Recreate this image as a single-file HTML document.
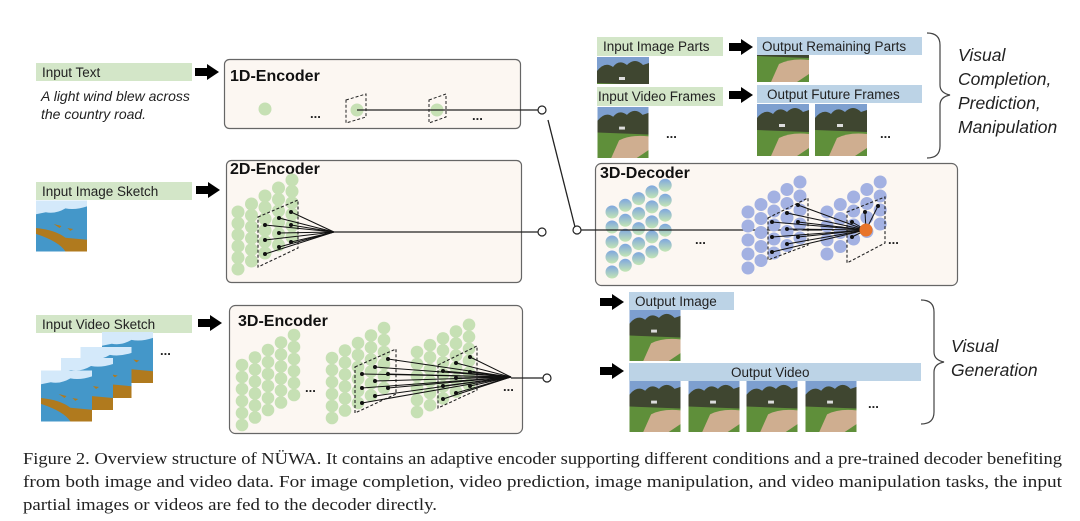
<!DOCTYPE html>
<html><head><meta charset="utf-8"><style>
html,body{margin:0;padding:0;background:#fff;}
svg{display:block;}
.lbl{font-family:"Liberation Sans",sans-serif;font-size:13.5px;fill:#222;}
.ttl{font-family:"Liberation Sans",sans-serif;font-size:16px;font-weight:bold;fill:#111;}
.it{font-family:"Liberation Sans",sans-serif;font-size:14px;font-style:italic;fill:#222;}
.it2{font-family:"Liberation Sans",sans-serif;font-size:17.5px;font-style:italic;fill:#222;}
.cap{font-family:"Liberation Serif",serif;font-size:16.5px;fill:#222;}
.dots{font-family:"Liberation Sans",sans-serif;font-size:13px;font-weight:bold;fill:#222;}
</style></head><body>
<svg id="s" width="1080" height="521" viewBox="0 0 1080 521" xmlns="http://www.w3.org/2000/svg">
<defs>
<linearGradient id="bg" x1="0" y1="0" x2="0" y2="1"><stop offset="0" stop-color="#7ea6df"/><stop offset="1" stop-color="#c4e6b4"/></linearGradient>
<symbol id="photo" viewBox="0 0 52 52">
<rect width="52" height="52" fill="#4d5a3e"/>
<rect width="52" height="14" fill="#7d9fcf"/>
<path d="M0 14 Q8 4 16 10 Q22 2 30 8 Q38 0 46 8 L52 6 L52 30 L0 30Z" fill="#3f4630"/>
<rect x="22" y="20" width="6" height="3" fill="#ddd"/>
<path d="M0 26 L52 28 L52 52 L0 52Z" fill="#5f8f3a"/>
<path d="M14 52 L22 34 Q34 28 52 30 L52 44 L40 52Z" fill="#cfae90"/>
</symbol>
<symbol id="sketch" viewBox="0 0 52 52">
<rect width="52" height="52" fill="#4497c9"/>
<path d="M0 0 H52 V6 Q40 10 30 8 Q20 14 10 12 L0 14Z" fill="#d4e9fa"/>
<path d="M0 28 Q20 30 30 38 L52 40 L52 52 L30 52 Q24 42 0 34Z" fill="#b07a1e"/>
<path d="M18 24 l8 2 l-2 2z M32 28 l6 1 l-3 2z" fill="#b07a1e"/>
</symbol>
<symbol id="arrow" viewBox="0 0 24 16"><path d="M0 4 H12 V0 L24 8 L12 16 V12 H0Z" fill="#000"/></symbol>
</defs>

<!-- Encoder boxes -->
<rect x="224.5" y="59.5" width="296" height="69" rx="5" fill="#fcf7f2" stroke="#666" stroke-width="1.2"/>
<rect x="226.5" y="160.5" width="295" height="122" rx="5" fill="#fcf7f2" stroke="#666" stroke-width="1.2"/>
<rect x="229.5" y="305.5" width="293" height="128" rx="6" fill="#fcf7f2" stroke="#666" stroke-width="1.2"/>
<rect x="595.5" y="163.5" width="362" height="122" rx="6" fill="#fcf7f2" stroke="#666" stroke-width="1.2"/>

<text class="ttl" x="230" y="81">1D-Encoder</text>
<text class="ttl" x="230" y="174">2D-Encoder</text>
<text class="ttl" x="238" y="326">3D-Encoder</text>
<text class="ttl" x="600" y="178">3D-Decoder</text>

<!-- left inputs -->
<rect x="36" y="63" width="156" height="18" fill="#d3e6c8"/>
<text class="lbl" x="42" y="77">Input Text</text>
<use href="#arrow" x="195" y="64" width="24" height="16"/>
<text class="it" x="41" y="101">A light wind blew across</text>
<text class="it" x="41" y="119">the country road.</text>

<rect x="36" y="182" width="156" height="18" fill="#d3e6c8"/>
<text class="lbl" x="42" y="196">Input Image Sketch</text>
<use href="#arrow" x="196" y="182" width="24" height="16"/>
<use href="#sketch" x="36" y="200" width="51" height="52"/>

<rect x="36" y="315" width="156" height="18" fill="#d3e6c8"/>
<text class="lbl" x="42" y="329">Input Video Sketch</text>
<use href="#arrow" x="198" y="315" width="24" height="16"/>
<use href="#sketch" x="102" y="332" width="51" height="51"/>
<use href="#sketch" x="80" y="347" width="52" height="51"/>
<use href="#sketch" x="61" y="358" width="52" height="52"/>
<use href="#sketch" x="41" y="370" width="51" height="52"/>
<text class="dots" x="160" y="355">...</text>

<!-- 1D encoder content -->
<circle cx="265" cy="109" r="6.5" fill="#c6e0b4"/>
<text class="dots" x="310" y="118">...</text>
<path d="M346 100 L366 94 L366 117 L346 123Z" fill="none" stroke="#222" stroke-dasharray="3,2"/>
<circle cx="357" cy="110" r="6.5" fill="#c6e0b4"/>
<path d="M429 100 L446 94 L446 117 L429 123Z" fill="none" stroke="#222" stroke-dasharray="3,2"/>
<circle cx="437" cy="110" r="6.5" fill="#c6e0b4"/>
<text class="dots" x="472" y="120">...</text>
<line x1="357" y1="110" x2="538" y2="110" stroke="#222" stroke-width="1.3"/>
<circle cx="542" cy="110" r="4" fill="#fff" stroke="#222" stroke-width="1.2"/>
<line x1="548" y1="120" x2="575" y2="227" stroke="#222" stroke-width="1.3"/>

<g id="gen"></g>

<line x1="334" y1="232" x2="538" y2="232" stroke="#222" stroke-width="1.3"/>
<circle cx="542" cy="232" r="4" fill="#fff" stroke="#222" stroke-width="1.2"/>
<line x1="511" y1="378" x2="543" y2="378" stroke="#222" stroke-width="1.3"/>
<circle cx="547" cy="378" r="4" fill="#fff" stroke="#222" stroke-width="1.2"/>
<text class="dots" x="305" y="392">...</text>
<text class="dots" x="503" y="391">...</text>
<circle cx="577" cy="230" r="4" fill="#fff" stroke="#222" stroke-width="1.2"/>
<text class="dots" x="695" y="244">...</text>
<text class="dots" x="888" y="244">...</text>

<!-- top right -->
<rect x="597" y="37" width="126" height="19" fill="#d3e6c8"/>
<text class="lbl" x="603" y="51">Input Image Parts</text>
<use href="#arrow" x="729" y="39" width="24" height="16"/>
<rect x="757" y="37" width="165" height="18" fill="#bcd3e6"/>
<text class="lbl" x="762" y="51">Output Remaining Parts</text>
<svg x="597" y="57" width="52" height="27" viewBox="0 0 52 27"><use href="#photo" width="52" height="52"/></svg>
<svg x="757" y="55" width="52" height="27" viewBox="0 25 52 27"><use href="#photo" width="52" height="52"/></svg>

<rect x="597" y="87" width="126" height="19" fill="#d3e6c8"/>
<text class="lbl" x="598" y="101">Input Video Frames</text>
<use href="#arrow" x="729" y="87" width="24" height="16"/>
<rect x="757" y="85" width="165" height="18" fill="#bcd3e6"/>
<text class="lbl" x="767" y="99">Output Future Frames</text>
<use href="#photo" x="597" y="107" width="52" height="51"/>
<text class="dots" x="666" y="138">...</text>
<use href="#photo" x="757" y="104" width="52" height="52"/>
<use href="#photo" x="815" y="104" width="52" height="52"/>
<text class="dots" x="880" y="138">...</text>

<path d="M927 33 Q940 33 940 45 V85 Q940 93 950 95 Q940 97 940 105 V146 Q940 158 927 158" fill="none" stroke="#444" stroke-width="1.2"/>
<text class="it2" x="958" y="61">Visual</text>
<text class="it2" x="958" y="85">Completion,</text>
<text class="it2" x="958" y="109">Prediction,</text>
<text class="it2" x="958" y="133">Manipulation</text>

<!-- bottom right -->
<use href="#arrow" x="600" y="294" width="24" height="16"/>
<rect x="629" y="292" width="105" height="18" fill="#bcd3e6"/>
<text class="lbl" x="635" y="306">Output Image</text>
<use href="#photo" x="629" y="310" width="52" height="51"/>
<use href="#arrow" x="600" y="363" width="24" height="16"/>
<rect x="629" y="363" width="292" height="18" fill="#bcd3e6"/>
<text class="lbl" x="731" y="377">Output Video</text>
<use href="#photo" x="629" y="381" width="52" height="51"/>
<use href="#photo" x="688" y="381" width="52" height="51"/>
<use href="#photo" x="746" y="381" width="52" height="51"/>
<use href="#photo" x="805" y="381" width="52" height="51"/>
<text class="dots" x="868" y="408">...</text>
<path d="M921 300 Q934 300 934 312 V352 Q934 360 944 362 Q934 364 934 372 V412 Q934 424 921 424" fill="none" stroke="#444" stroke-width="1.2"/>
<text class="it2" x="951" y="352">Visual</text>
<text class="it2" x="951" y="376">Generation</text>

<!-- caption -->
<text class="cap" x="23" y="464" textLength="1039" lengthAdjust="spacingAndGlyphs">Figure 2. Overview structure of NÜWA. It contains an adaptive encoder supporting different conditions and a pre-trained decoder benefiting</text>
<text class="cap" x="23" y="487" textLength="1039" lengthAdjust="spacingAndGlyphs">from both image and video data. For image completion, video prediction, image manipulation, and video manipulation tasks, the input</text>
<text class="cap" x="23" y="510" textLength="414" lengthAdjust="spacingAndGlyphs">partial images or videos are fed to the decoder directly.</text>
</svg>
<script>
(function(){
var g=document.getElementById("gen"),h="";
function grid(x0,y0,cols,rows,dx,dy,sh,r,fill){
 for(var c=0;c<cols;c++)for(var k=0;k<rows;k++){
  h+='<circle cx="'+(x0+c*dx)+'" cy="'+(y0-c*sh+k*dy)+'" r="'+r+'" fill="'+fill+'"/>';}}
function para(p){h+='<path d="M'+p.join(' L')+'Z" fill="none" stroke="#222" stroke-dasharray="3,2" stroke-width="1.1"/>';}
function fan(pts,tx,ty){pts.forEach(function(p){h+='<line x1="'+p[0]+'" y1="'+p[1]+'" x2="'+tx+'" y2="'+ty+'" stroke="#111" stroke-width="1"/><circle cx="'+p[0]+'" cy="'+p[1]+'" r="2" fill="#111"/>';});}
var G="#c6e0b4";
// 2D
grid(238,212,5,6,13.5,11.4,8,6.5,G);
para(["258,217","298,200","298,248","258,267"]);
fan([[265,225],[279,218],[291,212],[265,240],[279,233],[291,225],[265,254],[279,247],[291,242]],334,232);
// 3D encoder
grid(242,365,5,6,13,12,7.5,6.3,G);
grid(332,358,5,6,13,12,7.5,6.3,G);
grid(417,352,5,6,13,12,6.8,6.3,G);
para(["355,367","396,349","396,394","355,413"]);
para(["438,365","477,346","477,390","438,408"]);
fan([[388,359],[375,367],[362,374],[388,374],[375,381],[362,388],[388,388],[375,396],[362,403],[470,357],[456,363],[443,371],[470,372],[456,378],[443,386],[470,386],[456,393],[443,399]],511,377);
// decoder
grid(612,212,5,5,13.3,15,6.7,6.5,"url(#bg)");
h+='<line x1="581" y1="230" x2="866" y2="230" stroke="#222" stroke-width="1.3"/>';
grid(748,212,5,5,13,14,7.5,6.5,"#a3b1e2");
grid(827,212,5,4,13.3,14,7.5,6.5,"#a3b1e2");
para(["768,218","808,198","808,245","768,260"]);
para(["847,212","885,197","885,243","847,263"]);
fan([[772,222],[787,213],[798,205],[772,237],[787,229],[798,222],[772,252],[787,244],[798,237],[852,222],[852,237],[865,212],[878,206]],866,230);
h+='<circle cx="866" cy="230" r="6.5" fill="#e8742a"/>';
g.innerHTML=h;
})();
</script>
</body></html>
